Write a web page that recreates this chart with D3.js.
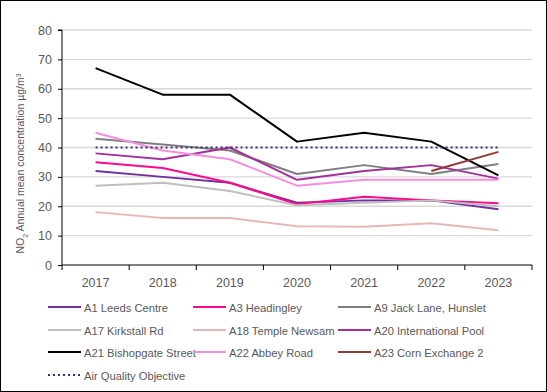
<!DOCTYPE html>
<html>
<head>
<meta charset="utf-8">
<script src="https://cdn.jsdelivr.net/npm/d3@7"></script>
<style>
  body { margin: 0; background: #fff; }
  svg { font-family: "Liberation Sans", Arial, sans-serif; }
</style>
</head>
<body>
<div class="content"></div>
<script>
const years = ['2017', '2018', '2019', '2020', '2021', '2022', '2023'];
const yTicks = [0, 10, 20, 30, 40, 50, 60, 70, 80];

const a1 = [32, 30, 28, 21.2, 22, 22, 19];
const a3 = [35, 33, 28, 20.7, 23.2, 22, 21];
const a9 = [43, 41, 39, 31, 34, 31, 34.4];
const a17 = [27, 28, 25.2, 20.3, 21.2, 22, 20];
const a18 = [18, 16, 16, 13.2, 13, 14.2, 11.8];
const a20 = [38, 36, 40, 29, 32, 34, 29.4];
const a21 = [67, 58, 58, 42, 45, 42, 30.5];
const a22 = [45, 39, 36, 27, 29, 29, 29];
const a23 = [null, null, null, null, null, 32, 38.5];
const aqo = [40, 40, 40, 40, 40, 40, 40];

const series = [
  { name: 'A1 Leeds Centre', values: a1, color: '#7030a0' },
  { name: 'A3 Headingley', values: a3, color: '#ff0a8c' },
  { name: 'A9 Jack Lane, Hunslet', values: a9, color: '#7f7f7f' },
  { name: 'A17 Kirkstall Rd', values: a17, color: '#bfbfbf' },
  { name: 'A18 Temple Newsam', values: a18, color: '#e6b9b8' },
  { name: 'A20 International Pool', values: a20, color: '#a3319a' },
  { name: 'A21 Bishopgate Street', values: a21, color: '#000000' },
  { name: 'A22 Abbey Road', values: a22, color: '#f58ee0' },
  { name: 'A23 Corn Exchange 2', values: a23, color: '#953735' },
  { name: 'Air Quality Objective', values: aqo, color: '#3f2d6e', dotted: true }
];

const W = 547, H = 392;
const margin = { left: 62, right: 15, top: 30, bottom: 127 };

const svg = d3.select('div.content')
  .append('svg')
  .attr('width', W)
  .attr('height', H);

svg.append('rect')
  .attr('x', 0.5).attr('y', 0.5)
  .attr('width', W - 1).attr('height', H - 1)
  .attr('fill', '#fff')
  .attr('stroke', '#000');

const x = d3.scaleBand()
  .domain(years)
  .range([margin.left, W - margin.right]);

const y = d3.scaleLinear()
  .domain([0, 80])
  .range([H - margin.bottom, margin.top]);

// gridlines
svg.append('g')
  .selectAll('line')
  .data(yTicks.filter(d => d > 0))
  .enter()
  .append('line')
  .attr('x1', margin.left)
  .attr('x2', W - margin.right)
  .attr('y1', d => y(d))
  .attr('y2', d => y(d))
  .attr('stroke', '#d9d9d9')
  .attr('stroke-width', 1.3);

// y axis
const yAxis = d3.axisLeft(y).tickValues(yTicks).tickSize(4).tickPadding(6);
const gy = svg.append('g')
  .attr('transform', `translate(${margin.left},0)`)
  .call(yAxis);
gy.select('.domain').attr('stroke', '#000').attr('d', `M-4,${y(80)}H0V${y(0)}`);
gy.selectAll('.tick line').attr('stroke', '#000');
gy.selectAll('.tick text').attr('fill', '#595959').style('font-size', '12.5px');

// x axis, ticks on category boundaries
const gx = svg.append('g')
  .attr('transform', `translate(0,${y(0)})`);
gx.append('line')
  .attr('x1', margin.left).attr('x2', W - margin.right)
  .attr('stroke', '#000');
gx.selectAll('line.tk')
  .data(years.concat(['end']))
  .enter()
  .append('line')
  .attr('class', 'tk')
  .attr('x1', (d, i) => margin.left + i * x.step())
  .attr('x2', (d, i) => margin.left + i * x.step())
  .attr('y1', 0).attr('y2', 5)
  .attr('stroke', '#000');
gx.selectAll('text')
  .data(years)
  .enter()
  .append('text')
  .attr('x', d => x(d) + x.bandwidth() / 2)
  .attr('y', 22)
  .attr('text-anchor', 'middle')
  .attr('fill', '#595959')
  .style('font-size', '12.5px')
  .text(d => d);

// y axis title
const title = svg.append('text')
  .attr('transform', `translate(24,${y(40) + 16}) rotate(-90)`)
  .attr('text-anchor', 'middle')
  .attr('fill', '#595959')
  .style('font-size', '10.5px');
title.append('tspan').text('NO');
title.append('tspan').attr('baseline-shift', 'sub').style('font-size', '7px').text('2');
title.append('tspan').text(' Annual mean concentration µg/m');
title.append('tspan').attr('baseline-shift', 'super').style('font-size', '7px').text('3');

// lines
const line = d3.line()
  .defined(d => d.v != null)
  .x(d => x(d.year) + x.bandwidth() / 2)
  .y(d => y(d.v));

svg.append('g')
  .selectAll('path')
  .data(series)
  .enter()
  .append('path')
  .attr('d', s => line(years.map((yr, i) => ({ year: yr, v: s.values[i] }))))
  .attr('fill', 'none')
  .attr('stroke', s => s.color)
  .attr('stroke-width', s => s.dotted ? 2.2 : 2)
  .attr('stroke-dasharray', s => s.dotted ? '2 3' : null)
  .attr('stroke-linejoin', 'round');

// legend
const colX = [48, 193, 338];
const rowY = [307, 330, 352, 375];
const leg = svg.append('g')
  .selectAll('g')
  .data(series)
  .enter()
  .append('g')
  .attr('transform', (d, i) => `translate(${colX[i % 3]},${rowY[Math.floor(i / 3)]})`);
leg.append('line')
  .attr('x1', 0).attr('x2', 33)
  .attr('stroke', d => d.color)
  .attr('stroke-width', d => d.dotted ? 2.2 : 2)
  .attr('stroke-dasharray', d => d.dotted ? '2 3' : null);
leg.append('text')
  .attr('x', 36)
  .attr('y', 4.5)
  .attr('fill', '#595959')
  .style('font-size', '11.2px')
  .text(d => d.name);
</script>
</body>
</html>
